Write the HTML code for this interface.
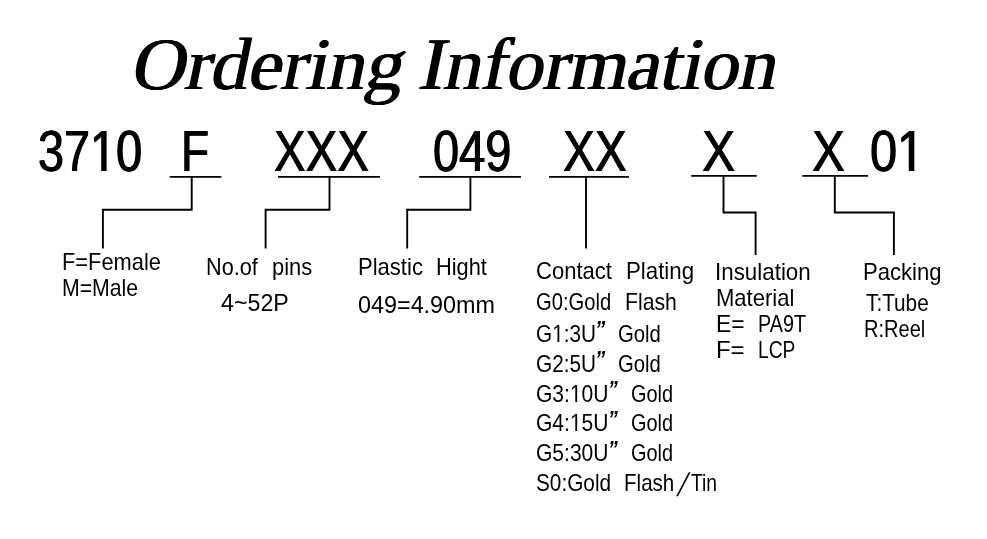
<!DOCTYPE html>
<html lang="en">
<head>
<meta charset="utf-8">
<title>Ordering Information</title>
<style>
html,body{margin:0;padding:0;background:#fff;}
body{width:987px;height:539px;overflow:hidden;position:relative;filter:grayscale(1);}
svg{position:absolute;left:0;top:0;display:block;}
polyline{fill:none;stroke:#000;stroke-width:1.9px;stroke-linecap:butt;stroke-linejoin:miter;}
i{position:absolute;display:block;}
span{position:absolute;display:block;margin:0;padding:0;line-height:1;white-space:pre;color:#000;transform-origin:0 0;}
.t{font-family:"Liberation Serif",serif;font-size:74.0px;text-shadow:-0.7px 0 0 #000,0.7px 0 0 #000;}
.p{font-family:"Liberation Sans",sans-serif;font-size:58.0px;text-shadow:-0.7px 0 0 #000,0.7px 0 0 #000;}
.l{font-family:"Liberation Sans",sans-serif;font-size:23.8px;}
.q{font-family:"Liberation Sans",sans-serif;font-style:italic;font-weight:bold;font-size:23.8px;}
</style>
</head>
<body>
<svg width="987" height="539" viewBox="0 0 987 539">
<polyline points="169.7,176.9 221.4,176.9"/>
<polyline points="277.9,176.9 380.0,176.9"/>
<polyline points="419.2,176.9 521.0,176.9"/>
<polyline points="549.1,176.9 628.9,176.9"/>
<polyline points="691.2,175.9 756.7,175.9"/>
<polyline points="802.3,175.9 868.0,175.9"/>
<polyline points="191.7,176.9 191.7,209.8 102.9,209.8 102.9,248.5"/>
<polyline points="329.5,176.9 329.5,209.8 265.6,209.8 265.6,248.5"/>
<polyline points="470.4,176.9 470.4,209.8 407.2,209.8 407.2,248.5"/>
<polyline points="586.0,176.9 586.0,248.5"/>
<polyline points="723.5,175.9 723.5,212.5 755.6,212.5 755.6,254.9"/>
<polyline points="834.8,175.9 834.8,212.5 893.9,212.5 893.9,254.9"/>
</svg>
<span class="t" style="left:141.96px;top:27px;transform:scaleX(1.0171) skewX(-11.5deg)">Ordering</span>
<span class="t" style="left:429.61px;top:27px;transform:scaleX(1.0101) skewX(-11.5deg)">Information</span>
<span class="p" style="left:38.09px;top:122px;transform:scaleX(0.8071)">3710</span>
<span class="p" style="left:181.23px;top:122px;transform:scaleX(0.7933)">F</span>
<span class="p" style="left:273.99px;top:122px;transform:scaleX(0.8183)">XXX</span>
<span class="p" style="left:433.18px;top:122px;transform:scaleX(0.8107)">049</span>
<span class="p" style="left:562.68px;top:122px;transform:scaleX(0.8237)">XX</span>
<span class="p" style="left:702.46px;top:122px;transform:scaleX(0.8591)">X</span>
<span class="p" style="left:811.96px;top:122px;transform:scaleX(0.8510)">X</span>
<span class="p" style="left:869.74px;top:122px;transform:scaleX(0.8410)">01</span>
<span class="l" style="left:62.26px;top:250px;transform:scaleX(0.9184)">F=Female</span>
<span class="l" style="left:62.32px;top:276px;transform:scaleX(0.8924)">M=Male</span>
<span class="l" style="left:206.08px;top:255px;transform:scaleX(0.9109)">No.of</span>
<span class="l" style="left:271.62px;top:255px;transform:scaleX(0.9212)">pins</span>
<span class="l" style="left:221.41px;top:291px;transform:scaleX(0.9756)">4~52P</span>
<span class="l" style="left:357.65px;top:255px;transform:scaleX(0.9259)">Plastic</span>
<span class="l" style="left:436.17px;top:255px;transform:scaleX(0.9164)">Hight</span>
<span class="l" style="left:358.42px;top:293px;transform:scaleX(0.9818)">049=4.90mm</span>
<span class="l" style="left:536.04px;top:259px;transform:scaleX(0.9255)">Contact</span>
<span class="l" style="left:626.33px;top:259px;transform:scaleX(0.9357)">Plating</span>
<span class="l" style="left:536.14px;top:290px;transform:scaleX(0.8478)">G0:Gold</span>
<span class="l" style="left:624.62px;top:290px;transform:scaleX(0.8917)">Flash</span>
<span class="l" style="left:536.11px;top:322px;transform:scaleX(0.8730)">G1:3U</span>
<span class="q" style="left:594.64px;top:318px;transform:scaleX(0.8649)">”</span>
<span class="l" style="left:617.73px;top:322px;transform:scaleX(0.8526)">Gold</span>
<span class="l" style="left:536.11px;top:352px;transform:scaleX(0.8730)">G2:5U</span>
<span class="q" style="left:594.64px;top:348px;transform:scaleX(0.8649)">”</span>
<span class="l" style="left:617.73px;top:352px;transform:scaleX(0.8526)">Gold</span>
<span class="l" style="left:536.10px;top:382px;transform:scaleX(0.8835)">G3:10U</span>
<span class="q" style="left:608.15px;top:378px;transform:scaleX(0.8216)">”</span>
<span class="l" style="left:630.75px;top:382px;transform:scaleX(0.8379)">Gold</span>
<span class="l" style="left:536.10px;top:411px;transform:scaleX(0.8835)">G4:15U</span>
<span class="q" style="left:608.15px;top:408px;transform:scaleX(0.8216)">”</span>
<span class="l" style="left:630.75px;top:411px;transform:scaleX(0.8379)">Gold</span>
<span class="l" style="left:536.10px;top:441px;transform:scaleX(0.8835)">G5:30U</span>
<span class="q" style="left:608.15px;top:438px;transform:scaleX(0.8216)">”</span>
<span class="l" style="left:630.75px;top:441px;transform:scaleX(0.8379)">Gold</span>
<span class="l" style="left:536.11px;top:471px;transform:scaleX(0.8733)">S0:Gold</span>
<span class="l" style="left:624.07px;top:471px;transform:scaleX(0.8642)">Flash</span>
<span class="l" style="left:684.77px;top:468px;transform:scaleX(1.0143) skewX(-17.5deg) scaleY(1.38)">/</span>
<span class="l" style="left:690.70px;top:471px;transform:scaleX(0.8100)">Tin</span>
<span class="l" style="left:715.49px;top:260px;transform:scaleX(0.9398)">Insulation</span>
<span class="l" style="left:715.85px;top:286px;transform:scaleX(0.9247)">Material</span>
<span class="l" style="left:715.78px;top:312px;transform:scaleX(0.9585)">E=</span>
<span class="l" style="left:758.34px;top:312px;transform:scaleX(0.8308)">PA9T</span>
<span class="l" style="left:715.69px;top:338px;transform:scaleX(1.0059)">F=</span>
<span class="l" style="left:757.89px;top:338px;transform:scaleX(0.8070)">LCP</span>
<span class="l" style="left:863.04px;top:260px;transform:scaleX(0.9284)">Packing</span>
<span class="l" style="left:865.56px;top:291px;transform:scaleX(0.8726)">T:Tube</span>
<span class="l" style="left:864.22px;top:317px;transform:scaleX(0.8419)">R:Reel</span>
<i style="left:92.50px;top:165.50px;width:23.00px;height:6.00px;background:#fff"></i>
<i style="left:101.00px;top:165.00px;width:1.00px;height:6.00px;background:rgb(53,53,53)"></i>
<i style="left:102.00px;top:165.00px;width:1.00px;height:6.00px;background:rgb(0,0,0)"></i>
<i style="left:103.00px;top:165.00px;width:1.00px;height:6.00px;background:rgb(0,0,0)"></i>
<i style="left:104.00px;top:165.00px;width:1.00px;height:6.00px;background:rgb(0,0,0)"></i>
<i style="left:105.00px;top:165.00px;width:1.00px;height:6.00px;background:rgb(0,0,0)"></i>
<i style="left:106.00px;top:165.00px;width:1.00px;height:6.00px;background:rgb(92,92,92)"></i>
<i style="left:899.50px;top:165.50px;width:24.00px;height:6.00px;background:#fff"></i>
<i style="left:908.00px;top:165.00px;width:1.00px;height:6.00px;background:rgb(192,192,192)"></i>
<i style="left:909.00px;top:165.00px;width:1.00px;height:6.00px;background:rgb(0,0,0)"></i>
<i style="left:910.00px;top:165.00px;width:1.00px;height:6.00px;background:rgb(0,0,0)"></i>
<i style="left:911.00px;top:165.00px;width:1.00px;height:6.00px;background:rgb(0,0,0)"></i>
<i style="left:912.00px;top:165.00px;width:1.00px;height:6.00px;background:rgb(0,0,0)"></i>
<i style="left:913.00px;top:165.00px;width:1.00px;height:6.00px;background:rgb(0,0,0)"></i>
<i style="left:914.00px;top:165.00px;width:1.00px;height:6.00px;background:rgb(172,172,172)"></i>
<i style="left:552.50px;top:339.50px;width:11.00px;height:3.00px;background:#fff"></i>
<i style="left:557.00px;top:339.00px;width:1.00px;height:3.00px;background:rgb(123,123,123)"></i>
<i style="left:558.00px;top:339.00px;width:1.00px;height:3.00px;background:rgb(0,0,0)"></i>
<i style="left:559.00px;top:339.00px;width:1.00px;height:3.00px;background:rgb(176,176,176)"></i>
<i style="left:570.50px;top:399.50px;width:11.00px;height:3.00px;background:#fff"></i>
<i style="left:575.00px;top:399.00px;width:1.00px;height:3.00px;background:rgb(77,77,77)"></i>
<i style="left:576.00px;top:399.00px;width:1.00px;height:3.00px;background:rgb(0,0,0)"></i>
<i style="left:577.00px;top:399.00px;width:1.00px;height:3.00px;background:rgb(216,216,216)"></i>
<i style="left:570.50px;top:428.50px;width:11.00px;height:3.00px;background:#fff"></i>
<i style="left:575.00px;top:428.00px;width:1.00px;height:3.00px;background:rgb(77,77,77)"></i>
<i style="left:576.00px;top:428.00px;width:1.00px;height:3.00px;background:rgb(0,0,0)"></i>
<i style="left:577.00px;top:428.00px;width:1.00px;height:3.00px;background:rgb(216,216,216)"></i>
</body>
</html>
